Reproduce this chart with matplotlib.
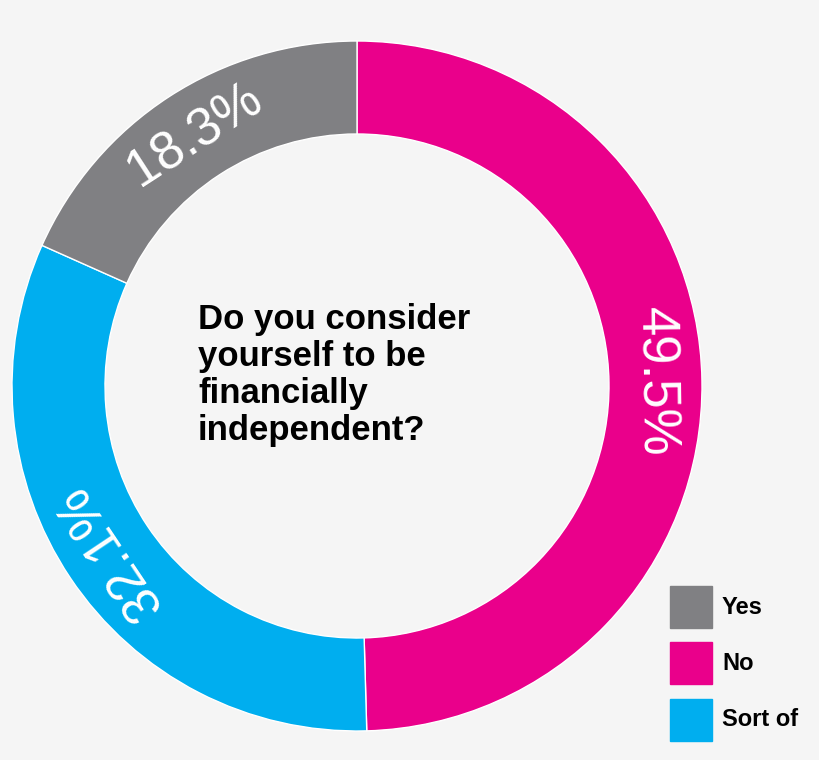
import matplotlib.pyplot as plt
from matplotlib.patches import Rectangle

labels = ["No", "Sort of", "Yes"]
values = [49.5, 32.1, 18.3]
colors = ["#ea008b", "#00aeef", "#808083"]
legend_order = ["Yes", "No", "Sort of"]
question = "Do you consider\nyourself to be\nfinancially\nindependent?"

fig = plt.figure(figsize=(8.2, 7.6), dpi=100)
fig.patch.set_facecolor("#f5f5f5")
ax = fig.add_axes([0, 0, 1, 1])
ax.set_xlim(0, 820)
ax.set_ylim(0, 760)
ax.set_aspect("equal")
ax.axis("off")

cx, cy, r = 357, 760 - 386, 345
width = 93
wedges, _ = ax.pie(values, colors=colors, startangle=90, counterclock=False,
                   center=(cx, cy), radius=r,
                   wedgeprops=dict(width=width, edgecolor="white", linewidth=1))
ax.set_xlim(0, 820)
ax.set_ylim(0, 760)

import numpy as np
for w, v in zip(wedges, values):
    th = (w.theta1 + w.theta2) / 2
    rot = th - 90
    if rot > 90:
        rot -= 180
    rm = r - width / 2
    x = cx + rm * np.cos(np.radians(th))
    y = cy + rm * np.sin(np.radians(th))
    ax.text(x, y, f"{v}%", rotation=rot, rotation_mode="anchor",
            ha="center", va="center", fontsize=38, color="white",
            family="Liberation Sans")

ax.text(198, 760 - 375, question, ha="left", va="center", fontsize=25,
        fontweight="bold", family="Liberation Sans", linespacing=1.15)

ys = [607, 663, 720]
for name, yy in zip(legend_order, ys):
    c = colors[labels.index(name)]
    ax.add_patch(Rectangle((670, 760 - yy - 21), 42, 42, color=c))
    ax.text(722, 760 - yy, name, ha="left", va="center", fontsize=17,
            fontweight="bold", family="Liberation Sans")

fig.savefig("out.png", dpi=100, facecolor=fig.get_facecolor())
